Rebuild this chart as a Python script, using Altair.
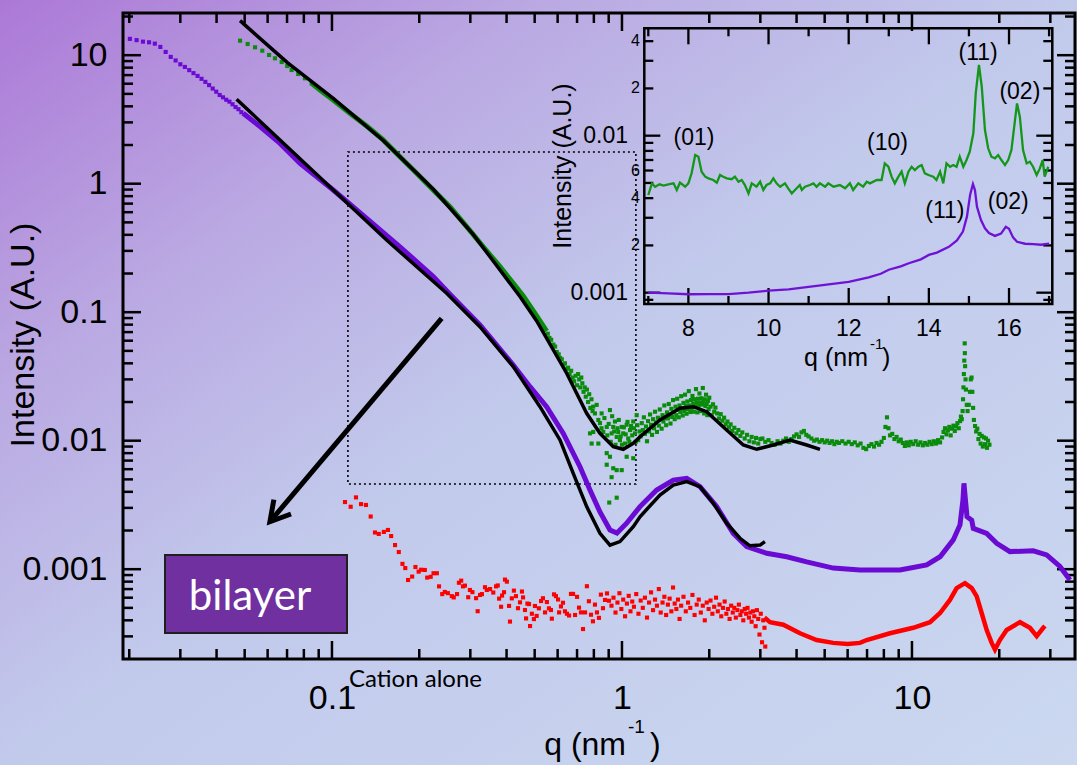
import altair as alt
import pandas as pd

# ------------------------------------------------------------------
# Values  (q in nm^-1, intensity in A.U.)
# ------------------------------------------------------------------
# bilayer sample (purple): separate low-q points
PURPLE_PTS = [(0.0201, 13.4), (0.0212, 13.1), (0.0223, 12.75), (0.0234, 12.6), (0.0245, 12.3),
              (0.0256, 11.6), (0.0267, 10.6), (0.0278, 9.7), (0.0289, 9.1), (0.0300, 8.5),
              (0.0311, 8.1), (0.0322, 7.65), (0.0333, 7.25), (0.0344, 6.9), (0.0355, 6.55),
              (0.0366, 6.2), (0.0377, 5.85), (0.0388, 5.5), (0.0399, 5.2), (0.0410, 4.9),
              (0.0421, 4.7), (0.0432, 4.5), (0.0443, 4.35), (0.0454, 4.15), (0.0465, 3.95),
              (0.0476, 3.8), (0.0487, 3.6)]
# bilayer sample (purple): dense part
PURPLE_DENSE = [(0.0494, 3.53), (0.0565, 2.78), (0.0662, 2.06), (0.0776, 1.44), (0.1010, 0.893),
                (0.1135, 0.714), (0.1317, 0.537), (0.1716, 0.323), (0.2235, 0.189), (0.2551, 0.138),
                (0.3238, 0.0795), (0.4218, 0.0388), (0.4818, 0.0263), (0.5497, 0.0184),
                (0.6275, 0.0114), (0.7165, 0.00627), (0.7757, 0.00413), (0.8396, 0.00279),
                (0.9092, 0.00202), (0.9612, 0.00191), (1.038, 0.00228), (1.154, 0.00307),
                (1.317, 0.00413), (1.503, 0.00494), (1.672, 0.00510), (1.858, 0.00439),
                (2.121, 0.00307), (2.420, 0.00190), (2.692, 0.00150), (3.155, 0.00133),
                (3.699, 0.00125), (4.335, 0.00114), (5.354, 0.00102), (6.618, 0.000986),
                (9.093, 0.000986), (11.24, 0.00108), (12.50, 0.00125), (13.88, 0.00169),
                (14.64, 0.00221), (14.99, 0.00345), (15.11, 0.00466), (15.29, 0.00345),
                (15.48, 0.00256), (16.07, 0.00241), (16.27, 0.00208), (18.10, 0.00190),
                (19.60, 0.00159), (21.77, 0.00137), (26.20, 0.00139), (29.14, 0.00129),
                (32.38, 0.00105), (35.06, 0.000824)]

# second sample (green): dense stretch
GREEN_DENSE = [(0.0851, 6.04), (0.0909, 5.36), (0.101, 4.48), (0.1153, 3.53), (0.1317, 2.81),
               (0.1502, 2.19), (0.1716, 1.62), (0.1959, 1.205), (0.2235, 0.893), (0.2551, 0.662),
               (0.2914, 0.463), (0.3324, 0.323), (0.3796, 0.226), (0.4218, 0.168),
               (0.4566, 0.1337), (0.508, 0.0934), (0.55, 0.0713)]
# second sample (green): separate points
GREEN_PTS = [
    (0.0482, 12.97), (0.0512, 12.22), (0.0543, 11.52), (0.0575, 10.84), (0.0607, 10.04),
    (0.0636, 9.46), (0.0671, 8.85), (0.0701, 8.24), (0.0726, 7.67), (0.0765, 7.14),
    (0.0807, 6.61), (0.0851, 6.04),
    (0.555, 0.068), (0.562, 0.063), (0.57, 0.061), (0.58, 0.056), (0.588, 0.054), (0.596, 0.049),
    (0.605, 0.047), (0.612, 0.044), (0.62, 0.043), (0.628, 0.039), (0.636, 0.040), (0.645, 0.036),
    (0.652, 0.037), (0.66, 0.033), (0.668, 0.035), (0.676, 0.031), (0.684, 0.029), (0.692, 0.032),
    (0.70, 0.027), (0.706, 0.033), (0.712, 0.030), (0.718, 0.026), (0.724, 0.031), (0.73, 0.028),
    (0.737, 0.024), (0.744, 0.026), (0.75, 0.022), (0.757, 0.025), (0.764, 0.020), (0.771, 0.023),
    (0.778, 0.018), (0.785, 0.021), (0.792, 0.017),
    (0.776, 0.0114), (0.786, 0.0095), (0.796, 0.0184), (0.796, 0.0117), (0.807, 0.0163),
    (0.818, 0.0190), (0.829, 0.0145), (0.829, 0.0095), (0.840, 0.0137), (0.851, 0.0163),
    (0.85, 0.0125), (0.862, 0.0117), (0.87, 0.0150), (0.886, 0.0128), (0.886, 0.0080),
    (0.886, 0.0065), (0.89, 0.0110), (0.90, 0.0135), (0.904, 0.0033), (0.909, 0.0173),
    (0.909, 0.0075), (0.915, 0.0098), (0.921, 0.0114), (0.921, 0.0052), (0.925, 0.0155),
    (0.933, 0.0128), (0.933, 0.0061), (0.94, 0.0118), (0.946, 0.0141), (0.95, 0.0093),
    (0.959, 0.0107), (0.959, 0.0059), (0.959, 0.0036), (0.965, 0.0125), (0.971, 0.0117),
    (0.975, 0.0145), (0.984, 0.0101), (0.99, 0.0108), (0.998, 0.0128), (0.998, 0.0059),
    (1.0, 0.0093), (1.010, 0.0114), (1.015, 0.0127), (1.024, 0.0095), (1.03, 0.0112),
    (1.038, 0.0133), (1.038, 0.0075), (1.045, 0.0140), (1.051, 0.0104), (1.06, 0.0098),
    (1.066, 0.0121), (1.075, 0.0130), (1.085, 0.0110), (1.094, 0.0141), (1.094, 0.0073),
    (1.10, 0.0125), (1.109, 0.0114), (1.115, 0.0098), (1.124, 0.0158), (1.13, 0.0132),
    (1.138, 0.0101), (1.15, 0.0118),
    (1.16, 0.0108), (1.17, 0.0137), (1.18, 0.0121), (1.19, 0.0152), (1.20, 0.0113), (1.21, 0.0129),
    (1.22, 0.0099), (1.23, 0.0142), (1.24, 0.0118), (1.25, 0.0160), (1.26, 0.0133), (1.27, 0.0111),
    (1.28, 0.0147), (1.29, 0.0125), (1.30, 0.0168), (1.31, 0.0139), (1.32, 0.0117), (1.33, 0.0151),
    (1.34, 0.0131), (1.35, 0.0175), (1.36, 0.0146), (1.37, 0.0124), (1.38, 0.0158), (1.39, 0.0141),
    (1.40, 0.0188), (1.41, 0.0150), (1.42, 0.0132), (1.43, 0.0166), (1.44, 0.0149), (1.45, 0.0193),
    (1.46, 0.0158), (1.47, 0.0136), (1.48, 0.0177), (1.49, 0.0153), (1.50, 0.0207), (1.51, 0.0166),
    (1.52, 0.0147), (1.53, 0.0184), (1.54, 0.0158), (1.55, 0.0212), (1.56, 0.0174), (1.57, 0.0152),
    (1.58, 0.0188), (1.59, 0.0167), (1.60, 0.0222), (1.61, 0.0178), (1.62, 0.0157), (1.63, 0.0197),
    (1.64, 0.0170), (1.65, 0.0228), (1.66, 0.0187), (1.67, 0.0162), (1.68, 0.0202), (1.69, 0.0176),
    (1.70, 0.0243), (1.71, 0.0188), (1.72, 0.0167), (1.73, 0.0207), (1.74, 0.0180), (1.75, 0.0223),
    (1.76, 0.0194), (1.77, 0.0168), (1.78, 0.0210), (1.79, 0.0183), (1.80, 0.0252), (1.81, 0.0197),
    (1.82, 0.0166), (1.83, 0.0212), (1.84, 0.0188), (1.85, 0.0233), (1.86, 0.0198), (1.87, 0.0170),
    (1.88, 0.0214), (1.89, 0.0191), (1.90, 0.0257), (1.91, 0.0201), (1.92, 0.0163), (1.93, 0.0210),
    (1.94, 0.0186), (1.95, 0.0228), (1.96, 0.0193), (1.97, 0.0158), (1.98, 0.0204), (1.99, 0.0176),
    (2.00, 0.0216), (2.02, 0.0184), (2.04, 0.0158), (2.06, 0.0192), (2.08, 0.0168), (2.10, 0.0181),
    (2.13, 0.0163), (2.16, 0.0149), (2.19, 0.0161), (2.22, 0.0143), (2.25, 0.0151), (2.28, 0.0134),
    (2.31, 0.0141), (2.34, 0.0127), (2.37, 0.0134), (2.40, 0.0119), (2.44, 0.0126), (2.48, 0.0114),
    (2.52, 0.0121), (2.56, 0.0109), (2.60, 0.0116), (2.65, 0.0104), (2.70, 0.0111), (2.75, 0.0099),
    (2.80, 0.0107), (2.85, 0.0097), (2.90, 0.0105), (2.95, 0.0095), (3.00, 0.0103),
    (3.05, 0.0104), (3.12, 0.0098), (3.2, 0.0101), (3.28, 0.0096), (3.36, 0.0093), (3.44, 0.0099),
    (3.52, 0.0095), (3.6, 0.0100), (3.68, 0.0104), (3.76, 0.0098), (3.84, 0.0103), (3.92, 0.0108),
    (4.0, 0.0112), (4.08, 0.0107), (4.16, 0.0116), (4.24, 0.0119), (4.32, 0.0111), (4.4, 0.0108),
    (4.5, 0.0104), (4.6, 0.0100), (4.7, 0.0102), (4.8, 0.0098), (4.9, 0.0101), (5.0, 0.0097),
    (5.1, 0.0100), (5.2, 0.0096), (5.3, 0.0099), (5.4, 0.0094), (5.5, 0.0098), (5.6, 0.0096),
    (5.75, 0.0099), (5.9, 0.0095), (6.05, 0.0098), (6.2, 0.0094), (6.35, 0.0097), (6.5, 0.0092),
    (6.65, 0.0095), (6.8, 0.0088), (6.95, 0.0086), (7.1, 0.0091), (7.25, 0.0094), (7.4, 0.0090),
    (7.55, 0.0096), (7.7, 0.0093), (7.85, 0.0098), (8.0, 0.0105), (8.1, 0.0128), (8.2, 0.0152),
    (8.3, 0.0125), (8.4, 0.0110), (8.55, 0.0113), (8.7, 0.0103), (8.85, 0.0107), (9.0, 0.0099),
    (9.15, 0.0102), (9.3, 0.0096), (9.45, 0.0091), (9.6, 0.0097), (9.75, 0.0092), (9.9, 0.0098),
    (10.1, 0.0094), (10.3, 0.0099), (10.5, 0.0093), (10.7, 0.0097), (10.9, 0.0092), (11.1, 0.0096),
    (11.3, 0.0093), (11.5, 0.0098), (11.7, 0.0094), (11.9, 0.0099), (12.1, 0.0095), (12.3, 0.0101),
    (12.5, 0.0097), (12.7, 0.0106), (12.85, 0.0117), (13.0, 0.0125), (13.15, 0.0112), (13.3, 0.0120),
    (13.45, 0.0128), (13.6, 0.0110), (13.75, 0.0124), (13.9, 0.0131), (14.05, 0.0119), (14.2, 0.0129),
    (14.35, 0.0137), (14.5, 0.0125), (14.65, 0.0142), (14.75, 0.0154), (14.85, 0.0147), (14.95, 0.0170),
    (15.0, 0.0210), (15.05, 0.0260), (15.1, 0.0330), (15.15, 0.0420), (15.2, 0.0572), (15.22, 0.0480),
    (15.25, 0.0380), (15.3, 0.0300), (15.35, 0.0250), (15.45, 0.0190), (15.55, 0.0170), (15.7, 0.0190),
    (15.85, 0.0240), (15.95, 0.0300), (16.05, 0.0310), (16.15, 0.0240), (16.25, 0.0180), (16.35, 0.0145),
    (16.5, 0.0130), (16.65, 0.0118), (16.8, 0.0124), (16.95, 0.0103), (17.1, 0.0113), (17.25, 0.0095),
    (17.4, 0.0109), (17.55, 0.0090), (17.7, 0.0106), (17.85, 0.0094), (18.0, 0.0104), (18.15, 0.0088),
    (18.3, 0.0100), (18.5, 0.0093)]

# cation alone (red): separate points
RED_PTS = [
    (0.1109, 0.00333), (0.116, 0.00306), (0.121, 0.00362), (0.126, 0.00321), (0.131, 0.00316),
    (0.136, 0.00257), (0.1407, 0.00193), (0.145, 0.00188), (0.151, 0.00195), (0.156, 0.00202),
    (0.160, 0.00181), (0.165, 0.00154), (0.170, 0.00136), (0.175, 0.00110), (0.179, 0.00102),
    (0.183, 0.000824), (0.189, 0.000876), (0.194, 0.00104), (0.199, 0.000957), (0.203, 0.00099),
    (0.209, 0.000986), (0.213, 0.00086), (0.219, 0.000872), (0.224, 0.00093), (0.230, 0.00093),
    (0.234, 0.000735), (0.240, 0.000640), (0.245, 0.000665), (0.251, 0.000651), (0.259, 0.000617),
    (0.263, 0.000603), (0.270, 0.000640), (0.274, 0.000784), (0.279, 0.000814), (0.283, 0.000735),
    (0.2875, 0.000745), (0.295, 0.000605), (0.299, 0.000689), (0.305, 0.000663), (0.314, 0.000595),
    (0.318, 0.000471), (0.324, 0.000630), (0.329, 0.000640), (0.337, 0.000724), (0.342, 0.000689),
    (0.351, 0.000700), (0.360, 0.000658), (0.368, 0.000735), (0.373, 0.000747), (0.377, 0.000590),
    (0.383, 0.000510), (0.386, 0.000623), (0.392, 0.000662), (0.395, 0.000830), (0.401, 0.000800),
    (0.408, 0.000518), (0.411, 0.000391), (0.417, 0.000593), (0.424, 0.000681), (0.431, 0.000617),
    (0.438, 0.000497), (0.445, 0.000552), (0.452, 0.000670), (0.456, 0.000603), (0.463, 0.000481),
    (0.467, 0.000414), (0.472, 0.000540), (0.478, 0.000535), (0.482, 0.000361), (0.489, 0.000450),
    (0.497, 0.000409), (0.501, 0.000517), (0.508, 0.000433), (0.517, 0.000496), (0.526, 0.000565),
    (0.534, 0.000594), (0.543, 0.000461), (0.551, 0.000555), (0.560, 0.000496), (0.569, 0.000481),
    (0.573, 0.000412), (0.583, 0.000637), (0.592, 0.000617), (0.602, 0.000581), (0.607, 0.000461),
    (0.616, 0.000513), (0.626, 0.000548), (0.636, 0.000470), (0.646, 0.000450), (0.657, 0.000436),
    (0.667, 0.000642), (0.678, 0.000642), (0.689, 0.000440), (0.700, 0.000609), (0.711, 0.000502),
    (0.722, 0.000461), (0.734, 0.000342), (0.746, 0.000461), (0.757, 0.000737), (0.769, 0.000563),
    (0.782, 0.000442), (0.794, 0.000393), (0.807, 0.000530), (0.820, 0.000461), (0.833, 0.000418),
    (0.846, 0.000634), (0.860, 0.000497), (0.874, 0.000576), (0.888, 0.000648), (0.902, 0.000568),
    (0.92, 0.00052), (0.935, 0.00060), (0.95, 0.00046), (0.965, 0.00055), (0.98, 0.00065),
    (0.995, 0.00049), (1.01, 0.00058), (1.025, 0.00043), (1.04, 0.00054), (1.055, 0.00062),
    (1.07, 0.00047), (1.085, 0.00056), (1.10, 0.00051), (1.12, 0.00064), (1.14, 0.00045),
    (1.16, 0.00057), (1.18, 0.00050), (1.20, 0.00060), (1.22, 0.00042), (1.24, 0.00055),
    (1.26, 0.00066), (1.28, 0.00048), (1.30, 0.00058), (1.32, 0.00052), (1.34, 0.00070),
    (1.36, 0.00046), (1.38, 0.00055), (1.40, 0.00061), (1.42, 0.00044), (1.44, 0.00053),
    (1.46, 0.00059), (1.48, 0.00047), (1.50, 0.00072), (1.52, 0.00054), (1.54, 0.00049),
    (1.56, 0.00058), (1.58, 0.00041), (1.60, 0.00052), (1.63, 0.00061), (1.66, 0.00047),
    (1.69, 0.00055), (1.72, 0.00050), (1.75, 0.00063), (1.78, 0.00044), (1.81, 0.00053),
    (1.84, 0.00058), (1.87, 0.00046), (1.90, 0.00052), (1.93, 0.00040), (1.96, 0.00055),
    (1.99, 0.00049), (2.02, 0.00057), (2.05, 0.00045), (2.08, 0.00051), (2.11, 0.00060),
    (2.14, 0.00047), (2.17, 0.00053), (2.20, 0.00043), (2.23, 0.00050), (2.26, 0.00056),
    (2.29, 0.00045), (2.32, 0.00049), (2.35, 0.00041), (2.38, 0.00052), (2.41, 0.00046),
    (2.44, 0.00050), (2.47, 0.00042), (2.50, 0.00048), (2.53, 0.00053), (2.56, 0.00044),
    (2.59, 0.00047), (2.62, 0.00040), (2.65, 0.00049), (2.68, 0.00045), (2.71, 0.00050),
    (2.74, 0.00042), (2.77, 0.00046), (2.80, 0.00039), (2.83, 0.00047), (2.86, 0.00043),
    (2.89, 0.00036), (2.92, 0.00048), (2.95, 0.00041), (2.98, 0.00031), (3.01, 0.00045),
    (3.04, 0.00027), (3.07, 0.00040), (3.10, 0.00035), (3.12, 0.00025)]
# cation alone (red): dense part
RED_DENSE = [(3.10, 0.00042), (3.24, 0.000387), (3.60, 0.00037), (4.11, 0.000317), (4.69, 0.000281),
             (5.35, 0.000267), (6.00, 0.000262), (6.62, 0.000267), (6.98, 0.000281), (8.40, 0.000317),
             (10.1, 0.00035), (11.54, 0.000387), (12.5, 0.000456), (13.52, 0.000576), (14.26, 0.000712),
             (15.23, 0.000779), (16.07, 0.000712), (16.72, 0.000615), (17.39, 0.000456),
             (18.10, 0.000336), (18.83, 0.000267), (19.33, 0.000237), (20.11, 0.000281),
             (21.21, 0.000336), (23.57, 0.000387), (25.52, 0.00035), (26.92, 0.000301),
             (28.37, 0.00035), (28.75, 0.000362)]

# model fits (black)
FIT_UPPER = [(0.0482, 18.56), (0.0702, 8.75), (0.101, 4.62), (0.1502, 2.17), (0.2235, 0.905),
             (0.307, 0.403), (0.4449, 0.1325), (0.508, 0.0855), (0.6446, 0.0335), (0.7556, 0.01633),
             (0.8398, 0.01142), (0.9333, 0.00898), (1.010, 0.00857), (1.094, 0.00954),
             (1.154, 0.01074), (1.352, 0.0145), (1.585, 0.01787), (1.762, 0.01839), (1.959, 0.01681),
             (2.296, 0.01212), (2.620, 0.00926), (2.914, 0.00857), (3.325, 0.00926), (3.795, 0.01013),
             (4.335, 0.00926), (4.818, 0.00857)]
FIT_LOWER = [(0.0469, 4.54), (0.1543, 0.3646), (0.2486, 0.1404), (0.3238, 0.0771), (0.4218, 0.0377),
             (0.5215, 0.01839), (0.6113, 0.01013), (0.6792, 0.00557), (0.7556, 0.00307),
             (0.8398, 0.00190), (0.9092, 0.00154), (0.9842, 0.00164), (1.094, 0.00214),
             (1.154, 0.00256), (1.352, 0.00378), (1.503, 0.00452), (1.672, 0.00480), (1.858, 0.00439),
             (2.064, 0.00326), (2.296, 0.00228), (2.552, 0.00174), (2.763, 0.00152), (2.991, 0.00154),
             (3.112, 0.00164)]

# inset: wide-angle region (q, intensity)
INSET_GREEN = [
    (7.00, 0.00419), (7.09, 0.00497), (7.17, 0.00473), (7.28, 0.00490), (7.38, 0.00481), (7.50, 0.00490),
    (7.63, 0.00497), (7.71, 0.00451), (7.79, 0.00502), (7.92, 0.00473), (8.00, 0.00497), (8.08, 0.00576),
    (8.17, 0.00753), (8.25, 0.00735), (8.33, 0.00590), (8.42, 0.00548), (8.50, 0.00535), (8.62, 0.00522),
    (8.71, 0.00502), (8.79, 0.00562), (8.87, 0.00548), (8.96, 0.00535), (9.08, 0.00528), (9.16, 0.00548),
    (9.25, 0.00509), (9.33, 0.00522), (9.41, 0.00485), (9.50, 0.00429), (9.58, 0.00497), (9.70, 0.00473),
    (9.79, 0.00509), (9.87, 0.00451), (9.95, 0.00485), (10.04, 0.00497), (10.12, 0.00535), (10.20, 0.00497),
    (10.29, 0.00473), (10.41, 0.00497), (10.49, 0.00462), (10.58, 0.00429), (10.66, 0.00451),
    (10.78, 0.00485), (10.83, 0.00451), (10.91, 0.00473), (11.03, 0.00485), (11.12, 0.00497),
    (11.20, 0.00473), (11.28, 0.00497), (11.41, 0.00473), (11.49, 0.00497), (11.62, 0.00473),
    (11.78, 0.00485), (11.91, 0.00462), (12.03, 0.00497), (12.11, 0.00451), (12.24, 0.00497),
    (12.36, 0.00473), (12.45, 0.00509), (12.53, 0.00497), (12.70, 0.00522), (12.82, 0.00522),
    (12.90, 0.00666), (12.99, 0.00634), (13.07, 0.00548), (13.15, 0.00497), (13.24, 0.00548),
    (13.32, 0.00590), (13.40, 0.00497), (13.49, 0.00590), (13.57, 0.00634), (13.65, 0.00604),
    (13.74, 0.00634), (13.82, 0.00650), (13.90, 0.00576), (13.99, 0.00562), (14.11, 0.00548),
    (14.19, 0.00522), (14.28, 0.00590), (14.36, 0.00497), (14.44, 0.00666), (14.53, 0.00634),
    (14.61, 0.00650), (14.69, 0.00634), (14.77, 0.00735), (14.86, 0.00634), (14.94, 0.00700),
    (15.02, 0.00791), (15.11, 0.01035), (15.17, 0.0186), (15.25, 0.0282), (15.32, 0.0205),
    (15.40, 0.01087), (15.48, 0.00831), (15.56, 0.00735), (15.65, 0.00717), (15.73, 0.00753),
    (15.81, 0.00700), (15.90, 0.00650), (15.98, 0.00700), (16.06, 0.00810), (16.15, 0.01259),
    (16.20, 0.01606), (16.27, 0.0132), (16.35, 0.00810), (16.44, 0.00666), (16.52, 0.00683),
    (16.60, 0.00634), (16.69, 0.00562), (16.77, 0.00619), (16.84, 0.00700), (16.89, 0.00548),
    (16.98, 0.00634)]
INSET_PURPLE = [
    (7.0, 0.00100), (7.5, 0.00099), (8.0, 0.000977), (8.5, 0.00098), (9.0, 0.00098), (9.5, 0.00100),
    (10.0, 0.00103), (10.5, 0.00105), (11.0, 0.00109), (11.5, 0.00113), (12.0, 0.00117),
    (12.5, 0.00125), (12.8, 0.00132), (13.0, 0.00140), (13.3, 0.00147), (13.5, 0.00154),
    (13.8, 0.00163), (14.0, 0.00174), (14.2, 0.00180), (14.5, 0.00196), (14.7, 0.00215),
    (14.85, 0.00245), (14.95, 0.00305), (15.03, 0.00420), (15.1, 0.00492), (15.15, 0.0045),
    (15.2, 0.00353), (15.3, 0.00290), (15.4, 0.00257), (15.5, 0.00240), (15.65, 0.00230),
    (15.8, 0.00238), (15.92, 0.00263), (16.0, 0.00255), (16.1, 0.00225), (16.2, 0.00211),
    (16.4, 0.00205), (16.6, 0.00204), (16.8, 0.00202), (17.0, 0.00205)]
PEAK_X = [8.14, 12.97, 15.23, 16.27, 14.40, 15.98]
PEAK_I = [0.00962, 0.00902, 0.0335, 0.0191, 0.00333, 0.0038]
PEAK_TXT = ["(01)", "(10)", "(11)", "(02)", "(11)", "(02)"]

# zoom frame and arrow (data coordinates)
BOX_Q = [0.1135, 1.117]
BOX_I = [0.0046, 1.766]
ARROW_Q = [0.2389, 0.0611]
ARROW_I = [0.0896, 0.00234]

# tick values
MX_MAJOR = [0.1, 1, 10]
MX_MINOR = [0.02, 0.03, 0.04, 0.05, 0.06, 0.07, 0.08, 0.09, 0.2, 0.3, 0.4, 0.5, 0.6, 0.7, 0.8, 0.9,
            2, 3, 4, 5, 6, 7, 8, 9, 20, 30]
MY_MAJOR = [0.001, 0.01, 0.1, 1, 10]
MY_MINOR = [0.0003, 0.0004, 0.0005, 0.0006, 0.0007, 0.0008, 0.0009,
            0.002, 0.003, 0.004, 0.005, 0.006, 0.007, 0.008, 0.009,
            0.02, 0.03, 0.04, 0.05, 0.06, 0.07, 0.08, 0.09,
            0.2, 0.3, 0.4, 0.5, 0.6, 0.7, 0.8, 0.9, 2, 3, 4, 5, 6, 7, 8, 9, 20]
IX_MAJOR = [8, 10, 12, 14, 16]
IX_MINOR = [7, 9, 11, 13, 15, 17]
IY_MAJOR = [0.001, 0.01]
IY_MINOR = [0.0009, 0.002, 0.003, 0.004, 0.005, 0.006, 0.007, 0.008, 0.009, 0.02, 0.03, 0.04]
IY_MINOR_LAB_V = [0.002, 0.004, 0.006, 0.02, 0.04]
IY_MINOR_LAB = ["2", "4", "6", "2", "4"]

# ------------------------------------------------------------------
W, H = 952, 646
PURPLE = "#6A0AD2"
GREEN = "#0A8C0A"
RED = "#FF0000"
FONT = "Liberation Sans"

XS = alt.Scale(type="log", domain=[0.01903, 36.49], nice=False)
YS = alt.Scale(type="log", domain=[0.0002, 21.3], nice=False)
IX0, IX1, IY0, IY1 = 521.3, 929.3, 291.0, 15.3
IXS = alt.Scale(type="linear", domain=[6.9, 17.08], range=[IX0, IX1], nice=False, zero=False)
IYS = alt.Scale(type="log", domain=[0.000847, 0.0483], range=[IY0, IY1], nice=False)


def pairs(p):
    return pd.DataFrame({"q": [a for a, b in p], "i": [b for a, b in p]})


def xq():
    return alt.X("q:Q", scale=XS, axis=None)


def yi():
    return alt.Y("i:Q", scale=YS, axis=None)


def ixq():
    return alt.X("q:Q", scale=IXS, axis=None)


def iyi():
    return alt.Y("i:Q", scale=IYS, axis=None)


one = pd.DataFrame({"a": [0]})
layers = []

# background gradient covering whole canvas
grad = alt.Gradient(gradient="linear", x1=0, y1=0, x2=1, y2=1,
                    stops=[alt.GradientStop(color="#AC78D7", offset=0),
                           alt.GradientStop(color="#BAA8E2", offset=0.25),
                           alt.GradientStop(color="#C2CAEC", offset=0.5),
                           alt.GradientStop(color="#CBD8F0", offset=1)])
layers.append(alt.Chart(one).mark_rect(clip=False, fill=grad).encode(
    x=alt.value(-123), x2=alt.value(W + 2), y=alt.value(-13), y2=alt.value(H + 106)))

# axes (labels only, drawn above the background)
layers.append(alt.Chart(pairs(PURPLE_DENSE)).mark_point(opacity=0).encode(
    x=alt.X("q:Q", scale=XS, axis=alt.Axis(values=MX_MAJOR, format="~g", tickSize=0, domain=False,
                                           grid=False, labelFontSize=34, labelFont=FONT,
                                           labelColor="black", labelPadding=22, title=None,
                                           labelOverlap=False, labelFlush=False, zindex=2)),
    y=alt.Y("i:Q", scale=YS, axis=alt.Axis(values=MY_MAJOR, format="~g", tickSize=0, domain=False,
                                           grid=False, labelFontSize=34, labelFont=FONT,
                                           labelColor="black", labelPadding=16, title=None,
                                           labelOverlap=False, labelFlush=False, zindex=2))))

# main ticks (inside)
def xticks(vals, ln):
    d = pd.DataFrame({"q": vals})
    b = alt.Chart(d).mark_rule(color="black", strokeWidth=2.5).encode(
        x=xq(), y=alt.value(H), y2=alt.value(H - ln))
    t = alt.Chart(d).mark_rule(color="black", strokeWidth=2.5).encode(
        x=xq(), y=alt.value(0), y2=alt.value(ln))
    return [b, t]


def yticks(vals, ln):
    d = pd.DataFrame({"i": vals})
    l = alt.Chart(d).mark_rule(color="black", strokeWidth=2.5).encode(
        y=yi(), x=alt.value(0), x2=alt.value(ln))
    r = alt.Chart(d).mark_rule(color="black", strokeWidth=2.5).encode(
        y=yi(), x=alt.value(W), x2=alt.value(W - ln))
    return [l, r]


layers += xticks(MX_MAJOR, 18) + xticks(MX_MINOR, 10) + yticks(MY_MAJOR, 18) + yticks(MY_MINOR, 10)

# main frame
layers.append(alt.Chart(one).mark_rect(fillOpacity=0, stroke="black", strokeWidth=3).encode(
    x=alt.value(0), x2=alt.value(W), y=alt.value(0), y2=alt.value(H)))

# dotted zoom frame
layers.append(alt.Chart(pd.DataFrame({"q": [BOX_Q[0]], "q2": [BOX_Q[1]], "i": [BOX_I[0]], "i2": [BOX_I[1]]}))
              .mark_rect(fillOpacity=0, stroke="black", strokeWidth=1.6, strokeDash=[2, 3]).encode(
    x=xq(), x2="q2:Q", y=yi(), y2="i2:Q"))

# data
layers.append(alt.Chart(pairs(RED_DENSE)).mark_line(color=RED, strokeWidth=4.5).encode(x=xq(), y=yi()))
layers.append(alt.Chart(pairs(RED_PTS)).mark_square(color=RED, size=17, opacity=1).encode(x=xq(), y=yi()))
layers.append(alt.Chart(pairs(PURPLE_DENSE)).mark_line(color=PURPLE, strokeWidth=5).encode(x=xq(), y=yi()))
layers.append(alt.Chart(pairs(PURPLE_PTS)).mark_square(color=PURPLE, size=17, opacity=1).encode(x=xq(), y=yi()))
layers.append(alt.Chart(pairs(GREEN_DENSE)).mark_line(color=GREEN, strokeWidth=5).encode(x=xq(), y=yi()))
layers.append(alt.Chart(pairs(GREEN_PTS)).mark_square(color=GREEN, size=17, opacity=1).encode(x=xq(), y=yi()))

# fits
layers.append(alt.Chart(pairs(FIT_UPPER)).mark_line(color="black", strokeWidth=3.5).encode(x=xq(), y=yi()))
layers.append(alt.Chart(pairs(FIT_LOWER)).mark_line(color="black", strokeWidth=3.5).encode(x=xq(), y=yi()))

# arrow
arrow_df = pd.DataFrame({"q": ARROW_Q, "i": ARROW_I})
layers.append(alt.Chart(arrow_df).mark_line(color="black", strokeWidth=5, strokeCap="butt").encode(
    x=xq(), y=yi(), order=alt.Order("i:Q", sort="descending")))
layers.append(alt.Chart(arrow_df.iloc[[1]]).mark_point(
    shape="M -0.5 0.87 L 0 0 L 0.5 0.87", size=2000, angle=220, filled=False, stroke="black",
    strokeWidth=5, opacity=1, strokeJoin="miter").encode(x=xq(), y=yi()))

# bilayer box
layers.append(alt.Chart(one).mark_rect(fill="#7030A0", stroke="#1f1f1f", strokeWidth=2).encode(
    x=alt.value(42), x2=alt.value(224), y=alt.value(542), y2=alt.value(620)))
layers.append(alt.Chart(one).mark_text(text="bilayer", font="Lato", fontSize=42, color="white",
                                       align="center", baseline="alphabetic").encode(
    x=alt.value(127), y=alt.value(597)))

# main titles
layers.append(alt.Chart(one).mark_text(text="Intensity (A.U.)", font=FONT, fontSize=34, angle=270,
                                       align="center", baseline="alphabetic", color="black").encode(
    x=alt.value(-89), y=alt.value(322)))
layers.append(alt.Chart(one).mark_text(text="q (nm", font=FONT, fontSize=32, align="right",
                                       baseline="alphabetic", color="black").encode(
    x=alt.value(503), y=alt.value(742)))
layers.append(alt.Chart(one).mark_text(text="-1", font=FONT, fontSize=19, align="left",
                                       baseline="alphabetic", color="black").encode(
    x=alt.value(505), y=alt.value(720)))
layers.append(alt.Chart(one).mark_text(text=")", font=FONT, fontSize=32, align="left",
                                       baseline="alphabetic", color="black").encode(
    x=alt.value(527), y=alt.value(742)))
layers.append(alt.Chart(one).mark_text(text="Cation alone", font="Lato", fontSize=24, align="left",
                                       baseline="alphabetic", color="black").encode(
    x=alt.value(226), y=alt.value(674)))

# ---------------- inset ----------------
layers.append(alt.Chart(one).mark_rect(fillOpacity=0, stroke="black", strokeWidth=2.5).encode(
    x=alt.value(IX0), x2=alt.value(IX1), y=alt.value(IY1), y2=alt.value(IY0)))


def ixticks(vals, ln):
    d = pd.DataFrame({"q": vals})
    return [alt.Chart(d).mark_rule(color="black", strokeWidth=2.3).encode(
                x=ixq(), y=alt.value(IY0), y2=alt.value(IY0 - ln)),
            alt.Chart(d).mark_rule(color="black", strokeWidth=2.3).encode(
                x=ixq(), y=alt.value(IY1), y2=alt.value(IY1 + ln))]


def iyticks(vals, ln):
    d = pd.DataFrame({"i": vals})
    return [alt.Chart(d).mark_rule(color="black", strokeWidth=2.3).encode(
                y=iyi(), x=alt.value(IX0), x2=alt.value(IX0 + ln)),
            alt.Chart(d).mark_rule(color="black", strokeWidth=2.3).encode(
                y=iyi(), x=alt.value(IX1), x2=alt.value(IX1 - ln))]


layers += ixticks(IX_MAJOR, 16) + ixticks(IX_MINOR, 8) + iyticks(IY_MAJOR, 16) + iyticks(IY_MINOR, 9)

layers.append(alt.Chart(pd.DataFrame({"q": IX_MAJOR})).mark_text(
    font=FONT, fontSize=23, align="center", baseline="middle", color="black").encode(
    x=ixq(), y=alt.value(316), text=alt.Text("q:Q", format="d")))
layers.append(alt.Chart(pd.DataFrame({"i": IY_MAJOR})).mark_text(
    font=FONT, fontSize=23, align="right", baseline="middle", color="black").encode(
    y=iyi(), x=alt.value(505), text=alt.Text("i:Q", format="~g")))
layers.append(alt.Chart(pd.DataFrame({"i": IY_MINOR_LAB_V, "t": IY_MINOR_LAB})).mark_text(
    font=FONT, fontSize=16, align="right", baseline="middle", color="black").encode(
    y=iyi(), x=alt.value(517), text="t:N"))

layers.append(alt.Chart(pairs(INSET_GREEN)).mark_line(color="#14961A", strokeWidth=2.3).encode(
    x=ixq(), y=iyi()))
layers.append(alt.Chart(pairs(INSET_PURPLE)).mark_line(color="#6F12D6", strokeWidth=2.3).encode(
    x=ixq(), y=iyi()))
layers.append(alt.Chart(pd.DataFrame({"q": PEAK_X, "i": PEAK_I, "t": PEAK_TXT})).mark_text(
    font=FONT, fontSize=23, align="center", baseline="middle", color="black").encode(
    x=ixq(), y=iyi(), text="t:N"))

layers.append(alt.Chart(one).mark_text(text="Intensity (A.U.)", font=FONT, fontSize=25, angle=270,
                                       align="center", baseline="middle", color="black").encode(
    x=alt.value(440), y=alt.value(153)))
layers.append(alt.Chart(one).mark_text(text="q (nm", font=FONT, fontSize=25, align="right",
                                       baseline="alphabetic", color="black").encode(
    x=alt.value(745), y=alt.value(353)))
layers.append(alt.Chart(one).mark_text(text="-1", font=FONT, fontSize=15, align="left",
                                       baseline="alphabetic", color="black").encode(
    x=alt.value(747), y=alt.value(336)))
layers.append(alt.Chart(one).mark_text(text=")", font=FONT, fontSize=25, align="left",
                                       baseline="alphabetic", color="black").encode(
    x=alt.value(759), y=alt.value(353)))

chart = alt.layer(*layers).properties(
    width=W, height=H,
    padding={"left": 123, "top": 13, "right": 2, "bottom": 106},
    autosize=alt.AutoSizeParams(type="none"),
    background="#C2CAEC",
).resolve_scale(x="independent", y="independent").configure_view(stroke=None)

chart.save("out.html", embed_options={"renderer": "svg", "actions": False})
